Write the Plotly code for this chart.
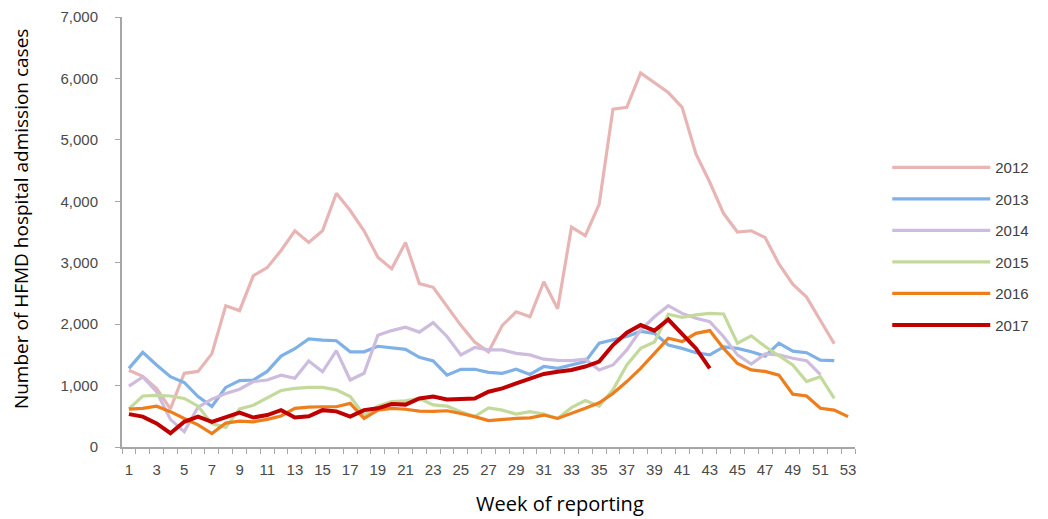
import plotly.graph_objects as go

weeks = list(range(1, 54))

y2012 = [1250, 1150, 950, 620, 1200, 1230, 1520, 2300, 2220, 2790, 2920, 3200, 3520, 3330,
         3520, 4130, 3850, 3520, 3090, 2900, 3330, 2660, 2600, 2300, 1980, 1710, 1550, 1980,
         2200, 2120, 2690, 2250, 3580, 3440, 3950, 5500, 5530, 6090, 5930, 5770, 5530, 4770,
         4310, 3800, 3500, 3520, 3410, 2980, 2650, 2440, 2060, 1680]
y2013 = [1280, 1540, 1335, 1145, 1050, 820, 660, 970, 1080, 1090, 1230, 1480, 1600, 1760,
         1740, 1730, 1550, 1550, 1640, 1620, 1590, 1460, 1400, 1170, 1265, 1265, 1215, 1200,
         1265, 1180, 1310, 1280, 1335, 1390, 1690, 1750, 1800, 1880, 1850, 1660, 1605, 1535,
         1500, 1630, 1605, 1550, 1480, 1690, 1560, 1535, 1415, 1405]
y2014 = [990, 1140, 900, 450, 250, 650, 780, 870, 940, 1065, 1090, 1170, 1120, 1400,
         1225, 1570, 1090, 1200, 1820, 1895, 1950, 1870, 2025, 1800, 1500, 1620, 1580, 1580,
         1525, 1500, 1430, 1410, 1405, 1430, 1255, 1335, 1580, 1905, 2120, 2300, 2175, 2095,
         2040, 1795, 1500, 1350, 1515, 1500, 1445, 1405, 1180]
y2015 = [620, 830, 840, 830, 790, 665, 380, 320, 620, 680, 800, 920, 955, 970,
         970, 930, 820, 520, 665, 740, 750, 790, 685, 665, 575, 495, 635, 600,
         535, 575, 535, 465, 640, 755, 665, 930, 1335, 1605, 1710, 2160, 2110, 2150,
         2175, 2165, 1690, 1810, 1635, 1480, 1335, 1065, 1145, 790]
y2016 = [615, 630, 665, 575, 465, 360, 220, 390, 420, 410, 450, 505, 630, 650,
         655, 655, 710, 465, 600, 630, 615, 585, 580, 590, 545, 495, 430, 450,
         465, 475, 520, 465, 545, 630, 720, 870, 1065, 1280, 1525, 1770, 1715, 1850,
         1895, 1605, 1360, 1255, 1230, 1170, 860, 830, 630, 600, 495]
y2017 = [535, 495, 385, 225, 410, 495, 410, 480, 560, 480, 520, 600, 480, 500,
         600, 580, 495, 600, 630, 700, 690, 790, 820, 775, 790, 790, 900, 955,
         1035, 1120, 1190, 1225, 1255, 1310, 1390, 1660, 1860, 1985, 1895, 2075, 1850, 1605,
         1280]

series_names = ["2012", "2013", "2014", "2015", "2016", "2017"]
series_values = [y2012, y2013, y2014, y2015, y2016, y2017]
colors = ["#E8B5B5", "#7FB0E6", "#CDBCDD", "#C3DA9C", "#EE7D1C", "#C00000"]
widths = [3.2, 3.2, 3.2, 3.2, 3.2, 4]

x_tick_vals = list(range(1, 54, 2))
y_tick_vals = [0, 1000, 2000, 3000, 4000, 5000, 6000, 7000]
y_tick_text = ["0", "1,000", "2,000", "3,000", "4,000", "5,000", "6,000", "7,000"]

x_title = "Week of reporting"
y_title = "Number of HFMD hospital admission cases"

fig = go.Figure()
for name, vals, col, w in zip(series_names, series_values, colors, widths):
    fig.add_trace(go.Scatter(
        x=weeks[:len(vals)], y=vals, mode="lines", name=name,
        line=dict(color=col, width=w), legendgroup=name,
    ))

tick_font = dict(family="Liberation Sans, Arial", size=15, color="#4a4a4a")

fig.update_layout(
    width=1048, height=519,
    margin=dict(l=114, r=201, t=9, b=80),
    plot_bgcolor="white", paper_bgcolor="white",
    showlegend=True,
    legend=dict(
        x=1.044, xanchor="left", y=0.688, yanchor="top",
        font=dict(family="Liberation Sans, Arial", size=15, color="#404040"),
        itemwidth=98, tracegroupgap=9,
        bgcolor="rgba(0,0,0,0)",
    ),
    xaxis=dict(
        range=[0.5, 53.5], tickmode="array", tickvals=x_tick_vals,
        ticks="", showgrid=False, zeroline=False, automargin=False,
        showline=True, linecolor="#A6A6A6", linewidth=2,
        tickfont=tick_font, ticklabelstandoff=8,
        minor=dict(tickmode="array", tickvals=[k + 0.5 for k in range(0, 54)],
                   ticks="outside", ticklen=5, tickcolor="#A6A6A6", tickwidth=1, showgrid=False),
    ),
    yaxis=dict(
        range=[0, 7000], tickmode="array", tickvals=y_tick_vals, ticktext=y_tick_text,
        ticks="outside", ticklen=5, tickcolor="#A6A6A6", tickwidth=1,
        showgrid=False, zeroline=False, automargin=False,
        showline=True, linecolor="#A6A6A6", linewidth=2,
        tickfont=tick_font, ticklabelstandoff=14,
    ),
    annotations=[
        dict(text=x_title, xref="paper", yref="paper", x=0.598, y=-0.131,
             xanchor="center", yanchor="middle", showarrow=False,
             font=dict(family="Open Sans", size=20, color="#000000")),
        dict(text=y_title, xref="paper", yref="paper", x=-0.1378, y=0.53,
             xanchor="center", yanchor="middle", showarrow=False, textangle=-90,
             font=dict(family="Open Sans", size=19, color="#000000")),
    ],
)

fig.write_html("out.html")
